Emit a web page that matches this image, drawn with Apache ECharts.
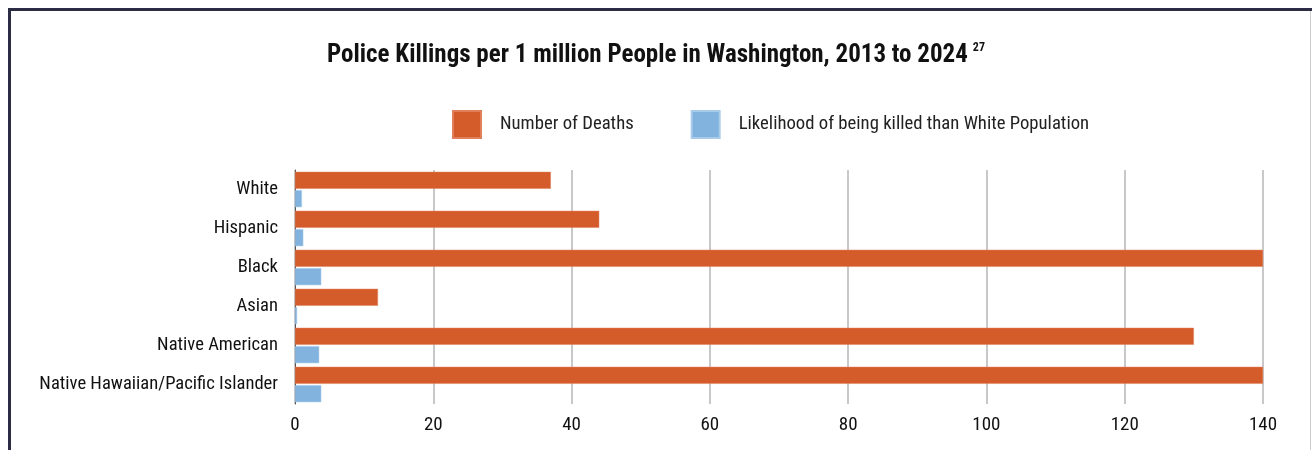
<!DOCTYPE html>
<html>
<head>
<meta charset="utf-8">
<script src="https://cdn.jsdelivr.net/npm/echarts@6/dist/echarts.min.js"></script>
<style>
html,body{margin:0;padding:0;background:#fff;}
#c{width:1312px;height:450px;}
</style>
</head>
<body>
<div id="c"></div>
<script>
const categories = ["White","Hispanic","Black","Asian","Native American","Native Hawaiian/Pacific Islander"];
const deaths = [37, 44, 140, 12, 130, 140];
const likelihood = [1.0, 1.2, 3.8, 0.3, 3.5, 3.8];
const xTicks = [0, 20, 40, 60, 80, 100, 120, 140];
const seriesNames = ["Number of Deaths", "Likelihood of being killed than White Population"];
const titleText = "Police Killings per 1 million People in Washington, 2013 to 2024";
const footnote = "27";

const FONT = '"Liberation Sans Narrow", "Roboto Condensed", "Liberation Sans", Arial, sans-serif';
const chart = echarts.init(document.getElementById('c'), null, {renderer: 'canvas'});
chart.setOption({
  animation: false,
  backgroundColor: '#ffffff',
  textStyle: {fontFamily: FONT},
  title: {
    text: '{t|' + titleText + '}{s|' + footnote + '}',
    left: 'center',
    top: 42,
    padding: 0,
    textStyle: {
      rich: {
        t: {fontFamily: FONT, fontWeight: 'bold', fontSize: 25, color: '#111'},
        s: {fontFamily: FONT, fontWeight: 'bold', fontSize: 12, color: '#111', verticalAlign: 'top', padding: [0,0,16,5]}
      }
    }
  },
  legend: {
    left: 452,
    top: 110,
    padding: 0,
    itemWidth: 28,
    itemHeight: 27,
    itemGap: 57,
    icon: 'rect',
    data: seriesNames,
    textStyle: {fontFamily: FONT, fontSize: 18.7, color: '#222', padding: [0,0,0,14]}
  },
  grid: {left: 295, right: 49, top: 170, height: 234, containLabel: false},
  xAxis: {
    type: 'value',
    min: 0, max: 140, interval: 20,
    axisLine: {show: false},
    axisTick: {show: false},
    splitLine: {show: true, lineStyle: {color: '#c8c8c8', width: 2}},
    axisLabel: {fontFamily: FONT, fontSize: 19, color: '#111', margin: 12,
      formatter: v => xTicks.includes(v) ? String(v) : ''}
  },
  yAxis: {
    type: 'category',
    inverse: true,
    data: categories,
    axisLine: {show: true, lineStyle: {color: '#555', width: 1}},
    axisTick: {show: false},
    axisLabel: {fontFamily: FONT, fontSize: 18.6, color: '#111', margin: 17}
  },
  series: [
    {name: seriesNames[0], type: 'bar', data: deaths, barWidth: 17, barGap: '8%',
     itemStyle: {color: '#D45B2A', borderColor: '#E07F5A', borderWidth: 0.5}},
    {name: seriesNames[1], type: 'bar', data: likelihood, barWidth: 17,
     itemStyle: {color: '#82B3DE', borderColor: '#A9CBEA', borderWidth: 0.5}}
  ],
  graphic: [
    {type: 'polyline', shape: {points: [[9.5, 450], [9.5, 9.5], [1312, 9.5]]},
     style: {stroke: '#2c2c44', lineWidth: 3, fill: null}, z: 100},
    {type: 'line', shape: {x1: 1310.5, y1: 11, x2: 1310.5, y2: 450},
     style: {stroke: '#cccccc', lineWidth: 1}, z: 100}
  ]
});
</script>
</body>
</html>
